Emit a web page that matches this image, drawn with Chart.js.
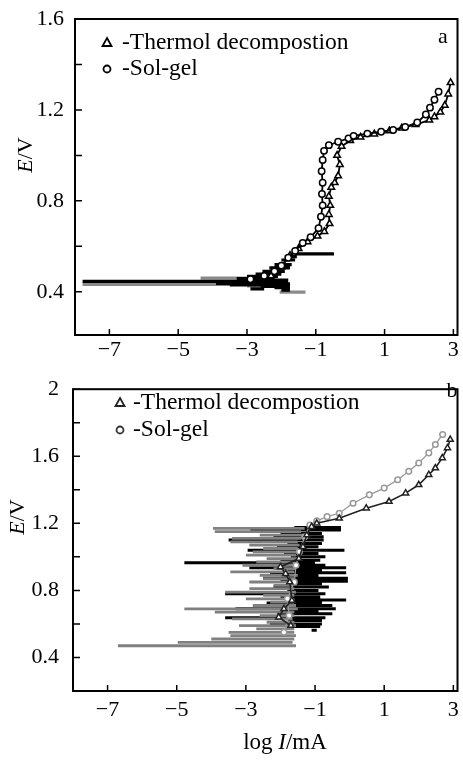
<!DOCTYPE html>
<html lang="en">
<head>
    <meta charset="UTF-8">
    <title>Polarization curves</title>
    <style>
        body { margin: 0; background: #fff; }
        .panel { position: absolute; left: 0; }
    </style>
</head>
<body>
    <div class="panel" style="top:0"><canvas id="chartA" width="463" height="370"></canvas></div>
    <div class="panel" style="top:370px"><canvas id="chartB" width="463" height="390"></canvas></div>

    <script src="https://cdn.jsdelivr.net/npm/chart.js"></script>
    <script>
        // axis ticks
        const xTickValues = [-7, -5, -3, -1, 1, 3];
        const aYTickValues = [0.4, 0.6, 0.8, 1.0, 1.2, 1.4, 1.6];
        const aYTickLabels = ['0.4', '', '0.8', '', '1.2', '', '1.6'];
        const bYTickValues = [0.4, 0.6, 0.8, 1.0, 1.2, 1.4, 1.6, 1.8, 2.0];
        const bYTickLabels = ['0.4', '', '0.8', '', '1.2', '', '1.6', '', '2'];
        const seriesNames = ['-Thermol decompostion', '-Sol-gel'];

        // panel a: main curves (log I, E)
        const aSolGelX = [-2.9, -2.5, -2.2, -2.0, -1.8, -1.6, -1.38, -1.15, -0.92, -0.85, -0.8, -0.82, -0.8, -0.83, -0.8, -0.76, -0.62, -0.35, -0.05, 0.1, 0.5, 0.9, 1.25, 1.6, 1.95, 2.2, 2.32, 2.45, 2.57];
        const aSolGelE = [0.455, 0.47, 0.49, 0.515, 0.55, 0.58, 0.615, 0.64, 0.68, 0.73, 0.78, 0.83, 0.88, 0.93, 0.98, 1.02, 1.045, 1.06, 1.075, 1.086, 1.096, 1.104, 1.112, 1.125, 1.145, 1.18, 1.21, 1.245, 1.28];
        const aThermolX = [-2.3, -2.0, -1.75, -1.5, -1.24, -0.95, -0.75, -0.6, -0.62, -0.58, -0.62, -0.55, -0.45, -0.35, -0.3, -0.38, -0.25, 0.0, 0.3, 0.7, 1.14, 1.5, 1.9, 2.3, 2.45, 2.62, 2.75, 2.85, 2.92];
        const aThermolE = [0.47, 0.51, 0.56, 0.59, 0.62, 0.645, 0.665, 0.7, 0.74, 0.78, 0.82, 0.86, 0.88, 0.91, 0.96, 1.0, 1.04, 1.065, 1.08, 1.094, 1.108, 1.12, 1.135, 1.155, 1.17, 1.19, 1.22, 1.27, 1.32];

        // panel a: noisy current spikes (E, left end, right end)
        const aBlackE = [0.567, 0.555, 0.54, 0.52, 0.505, 0.49, 0.478, 0.468, 0.458, 0.451, 0.446, 0.44, 0.435, 0.43, 0.424, 0.418, 0.413, 0.407];
        const aBlackLo = [-1.6, -1.9, -2.0, -2.2, -2.35, -2.55, -2.75, -3.0, -3.3, -3.1, -7.78, -3.9, -3.9, -3.5, -2.6, -2.2, -2.9, -2.0];
        const aBlackHi = [-0.47, -1.55, -1.6, -1.7, -1.75, -1.9, -2.0, -2.1, -2.2, -1.8, -2.2, -1.8, -1.75, -1.75, -1.8, -1.75, -2.5, -1.75];
        const aGreyE = [0.46, 0.433, 0.426, 0.399];
        const aGreyLo = [-4.35, -7.78, -3.0, -2.05];
        const aGreyHi = [-3.0, -3.9, -2.4, -1.3];

        // panel b: main curves
        const bSolGelX = [-1.9, -1.75, -1.8, -1.6, -1.55, -1.45, -1.3, -1.15, -0.95, -0.65, -0.3, 0.1, 0.57, 1.0, 1.39, 1.71, 2.0, 2.29, 2.48, 2.69];
        const bSolGelE = [0.55, 0.65, 0.75, 0.85, 0.95, 1.03, 1.12, 1.19, 1.215, 1.24, 1.26, 1.32, 1.37, 1.41, 1.46, 1.51, 1.56, 1.62, 1.67, 1.73];
        const bThermolX = [-1.7, -2.05, -1.9, -1.67, -1.73, -1.85, -2.0, -1.47, -1.35, -1.24, -1.1, -0.95, -0.3, 0.48, 1.14, 1.62, 2.0, 2.29, 2.48, 2.68, 2.83, 2.91];
        const bThermolE = [0.59, 0.64, 0.69, 0.74, 0.85, 0.9, 0.94, 0.99, 1.06, 1.13, 1.18, 1.2, 1.23, 1.29, 1.33, 1.38, 1.43, 1.49, 1.53, 1.59, 1.65, 1.70];

        // panel b: noisy current spikes
        const bGreyE = [1.17, 1.15, 1.13, 1.11, 1.09, 1.07, 1.05, 1.03, 1.01, 0.99, 0.97, 0.95, 0.93, 0.91, 0.89, 0.87, 0.85, 0.83, 0.81, 0.79, 0.77, 0.75, 0.73, 0.71, 0.69, 0.67, 0.65, 0.63, 0.61, 0.59, 0.57, 0.55, 0.53, 0.51, 0.49, 0.47];
        const bGreyLo = [-3.95, -3.9, -2.6, -3.4, -3.45, -2.9, -2.5, -2.8, -3.0, -2.4, -2.7, -3.1, -2.2, -3.45, -2.6, -2.5, -2.9, -2.2, -2.9, -3.6, -2.5, -3.0, -2.3, -2.8, -4.78, -3.9, -2.6, -3.4, -2.4, -3.2, -2.7, -3.5, -3.45, -4.0, -4.97, -6.7];
        const bGreyHi = [-1.3, -1.4, -1.35, -1.4, -1.5, -1.45, -1.5, -1.4, -1.55, -1.5, -1.6, -1.5, -1.55, -1.6, -1.5, -1.6, -1.55, -1.65, -1.6, -1.55, -1.6, -1.65, -1.6, -1.55, -1.5, -1.6, -1.6, -1.65, -1.6, -1.55, -1.6, -1.6, -1.55, -1.6, -1.65, -1.55];
        const bBlackE = [1.175, 1.16, 1.14, 1.12, 1.10, 1.08, 1.06, 1.04, 1.02, 1.0, 0.98, 0.965, 0.95, 0.935, 0.92, 0.905, 0.89, 0.873, 0.855, 0.84, 0.82, 0.8, 0.78, 0.76, 0.742, 0.725, 0.71, 0.69, 0.675, 0.66, 0.637, 0.62, 0.6, 0.585, 0.562];
        const bBlackLo = [-1.6, -2.87, -2.0, -2.2, -3.5, -1.8, -2.1, -2.95, -1.9, -1.7, -2.0, -4.78, -1.8, -2.9, -1.8, -2.3, -1.9, -2.5, -2.0, -1.7, -2.2, -1.8, -3.6, -2.0, -1.6, -2.4, -1.9, -3.3, -1.8, -2.1, -3.6, -1.8, -2.3, -1.6, -1.1];
        const bBlackHi = [-0.25, -0.25, -0.8, -0.75, -0.75, -0.8, -0.9, -0.15, -0.9, -0.7, -0.85, -1.0, -0.7, -0.1, -0.8, -0.1, -0.9, -0.05, -0.05, -0.8, -0.6, -0.9, -0.7, -0.85, -0.1, -0.8, -0.5, -0.4, -0.9, -0.5, -0.7, -0.8, -0.8, -0.85, -0.95];

        const SERIF = '"Liberation Serif", "Times New Roman", serif';

        function curve(xs, es) {
            return xs.map((x, i) => ({ x: x, y: es[i] }));
        }

        // every spike is its own segment, NaN breaks the line between them
        function spikes(es, lo, hi) {
            const pts = [];
            es.forEach((e, i) => {
                pts.push({ x: lo[i], y: e }, { x: hi[i], y: e }, { x: NaN, y: NaN });
            });
            return pts;
        }

        function drawMarker(ctx, style, x, y, r) {
            ctx.beginPath();
            if (style === 'triangle') {
                ctx.moveTo(x, y - r);
                ctx.lineTo(x + r * 0.9, y + r * 0.6);
                ctx.lineTo(x - r * 0.9, y + r * 0.6);
                ctx.closePath();
            } else {
                ctx.arc(x, y, r, 0, Math.PI * 2);
            }
            ctx.fillStyle = '#fff';
            ctx.fill();
            ctx.stroke();
        }

        // frame, inward ticks, legend, panel letter and axis titles
        const framePlugin = {
            id: 'frame',
            afterDraw(chart, args, opts) {
                const { ctx, chartArea: ca, scales } = chart;
                ctx.save();
                ctx.strokeStyle = '#000';
                ctx.lineWidth = 2;
                ctx.strokeRect(ca.left, ca.top, ca.right - ca.left, ca.bottom - ca.top);

                ctx.lineWidth = 1.5;
                ctx.beginPath();
                scales.y.ticks.forEach(t => {
                    const py = scales.y.getPixelForValue(t.value);
                    ctx.moveTo(ca.left, py);
                    ctx.lineTo(ca.left + 7, py);
                });
                scales.x.ticks.forEach(t => {
                    const px = scales.x.getPixelForValue(t.value);
                    ctx.moveTo(px, ca.bottom);
                    ctx.lineTo(px, ca.bottom - 6);
                });
                ctx.stroke();

                // legend
                ctx.font = '23.5px ' + SERIF;
                ctx.textBaseline = 'middle';
                ctx.textAlign = 'left';
                opts.legend.forEach((item, i) => {
                    const y = opts.legendY + i * opts.legendGap;
                    ctx.strokeStyle = item.color;
                    ctx.lineWidth = 1.8;
                    drawMarker(ctx, item.style, opts.legendX, y, item.r);
                    ctx.fillStyle = '#000';
                    ctx.fillText(item.label, opts.legendX + opts.textGap, y);
                });

                // panel letter
                ctx.font = '22px ' + SERIF;
                ctx.textAlign = 'center';
                ctx.fillText(opts.letter, opts.letterX, opts.letterY);

                // y title: italic E + /V, rotated
                ctx.save();
                ctx.translate(opts.yTitleX, opts.yTitleY);
                ctx.rotate(-Math.PI / 2);
                drawMixed(ctx, [['E', true], ['/V', false]], 22);
                ctx.restore();

                if (opts.xTitle) {
                    ctx.save();
                    ctx.translate(opts.xTitleX, opts.xTitleY);
                    drawMixed(ctx, [['log ', false], ['I', true], ['/mA', false]], 23);
                    ctx.restore();
                }
                ctx.restore();
            }
        };

        function drawMixed(ctx, parts, size) {
            let total = 0;
            const widths = parts.map(p => {
                ctx.font = (p[1] ? 'italic ' : '') + size + 'px ' + SERIF;
                const w = ctx.measureText(p[0]).width;
                total += w;
                return w;
            });
            let x = -total / 2;
            ctx.textAlign = 'left';
            ctx.textBaseline = 'middle';
            ctx.fillStyle = '#000';
            parts.forEach((p, i) => {
                ctx.font = (p[1] ? 'italic ' : '') + size + 'px ' + SERIF;
                ctx.fillText(p[0], x, 0);
                x += widths[i];
            });
        }

        function makeOptions(cfg) {
            return {
                responsive: false,
                animation: false,
                events: [],
                layout: { padding: { top: cfg.top, right: 1, left: 0, bottom: 0 } },
                plugins: {
                    legend: { display: false },
                    tooltip: { enabled: false },
                    frame: cfg.frame
                },
                scales: {
                    x: {
                        type: 'linear',
                        min: -8,
                        max: 3.12,
                        grid: { display: false },
                        border: { display: false },
                        afterBuildTicks: s => { s.ticks = xTickValues.map(v => ({ value: v })); },
                        afterFit: s => { s.height = cfg.xHeight; },
                        ticks: {
                            autoSkip: false,
                            maxRotation: 0,
                            padding: cfg.xPad,
                            color: '#000',
                            font: { family: SERIF, size: 22 },
                            callback: v => String(v).replace('-', '\u2212')
                        }
                    },
                    y: {
                        type: 'linear',
                        min: cfg.yMin,
                        max: cfg.yMax,
                        grid: { display: false },
                        border: { display: false },
                        afterBuildTicks: s => { s.ticks = cfg.yTicks.map(v => ({ value: v })); },
                        afterFit: s => { s.width = cfg.yWidth; },
                        ticks: {
                            autoSkip: false,
                            padding: cfg.yPad,
                            color: '#000',
                            font: { family: SERIF, size: 22 },
                            callback: (v, i) => cfg.yLabels[i]
                        }
                    }
                }
            };
        }

        function lineSet(data, color, width, marker, radius) {
            return {
                data: data,
                showLine: true,
                borderColor: color,
                borderWidth: width,
                pointStyle: marker || 'circle',
                pointRadius: radius || 0,
                pointBorderColor: color,
                pointBackgroundColor: '#fff',
                pointBorderWidth: 1.5,
                tension: 0
            };
        }

        // panel a
        new Chart(document.getElementById('chartA'), {
            type: 'scatter',
            data: {
                datasets: [
                    lineSet(curve(aSolGelX, aSolGelE), '#000', 1.8, 'circle', 3.2),
                    lineSet(curve(aThermolX, aThermolE), '#000', 1.8, 'triangle', 3.8),
                    lineSet(spikes(aBlackE, aBlackLo, aBlackHi), '#000', 3.2),
                    lineSet(spikes(aGreyE, aGreyLo, aGreyHi), '#8a8a8a', 3.2)
                ]
            },
            options: makeOptions({
                top: 19, xHeight: 35, xPad: -6, yWidth: 75, yPad: 3,
                yMin: 0.21, yMax: 1.6, yTicks: aYTickValues, yLabels: aYTickLabels,
                frame: {
                    legend: [
                        { label: seriesNames[0], style: 'triangle', color: '#000', r: 5 },
                        { label: seriesNames[1], style: 'circle', color: '#000', r: 3.5 }
                    ],
                    legendX: 107, legendY: 43, legendGap: 26, textGap: 15,
                    letter: 'a', letterX: 443, letterY: 37,
                    yTitleX: 26, yTitleY: 155, xTitle: false
                }
            }),
            plugins: [framePlugin]
        });

        // panel b
        new Chart(document.getElementById('chartB'), {
            type: 'scatter',
            data: {
                datasets: [
                    lineSet(curve(bThermolX, bThermolE), '#222', 1.6, 'triangle', 3.5),
                    lineSet(curve(bSolGelX, bSolGelE), '#999', 1.3, 'circle', 2.8),
                    lineSet(spikes(bGreyE, bGreyLo, bGreyHi), '#808080', 2.8),
                    lineSet(spikes(bBlackE, bBlackLo, bBlackHi), '#000', 3.0)
                ]
            },
            options: makeOptions({
                top: 5, xHeight: 69, xPad: -2, yWidth: 73, yPad: 6,
                yMin: 0.2, yMax: 2.0, yTicks: bYTickValues, yLabels: bYTickLabels,
                frame: {
                    legend: [
                        { label: seriesNames[0], style: 'triangle', color: '#222', r: 5 },
                        { label: seriesNames[1], style: 'circle', color: '#333', r: 3.5 }
                    ],
                    legendX: 120, legendY: 33, legendGap: 27, textGap: 13,
                    letter: 'b', letterX: 452, letterY: 21,
                    yTitleX: 18, yTitleY: 147, xTitle: true, xTitleX: 285, xTitleY: 373
                }
            }),
            plugins: [framePlugin]
        });
    </script>
</body>
</html>
